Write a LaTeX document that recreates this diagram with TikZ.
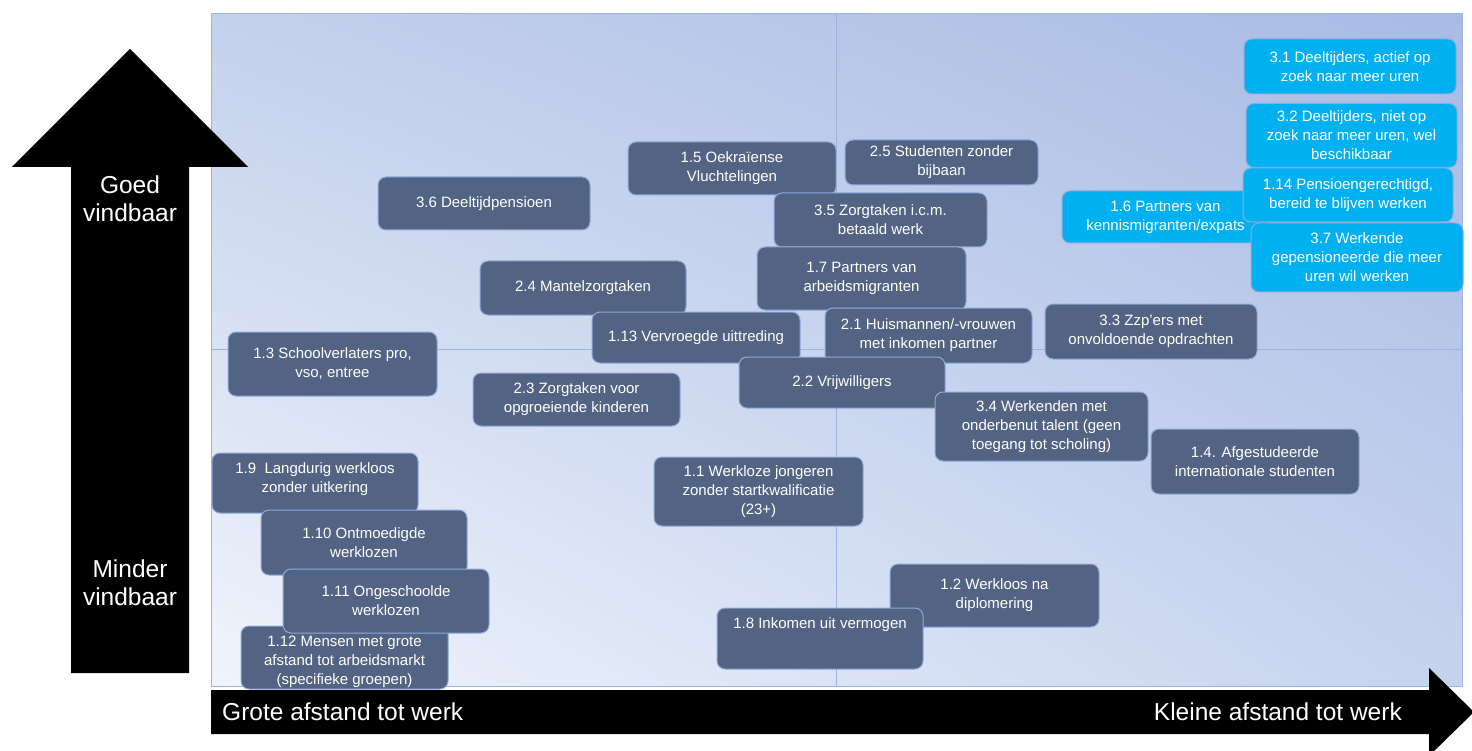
\documentclass[tikz,border=0pt]{standalone}
\usepackage{fontspec}
\setmainfont{Liberation Sans}
\usetikzlibrary{shadings}
\definecolor{boxdark}{HTML}{536383}
\definecolor{boxlight}{HTML}{00B0F0}
\definecolor{boxedge}{HTML}{8EAADB}
\definecolor{gridline}{HTML}{9DB4E0}
\definecolor{bgll}{HTML}{F0F4FC}
\definecolor{bgur}{HTML}{A8BBE5}
\definecolor{bgul}{HTML}{C4D1EC}
\definecolor{bglr}{HTML}{C6D3EE}
\tikzset{
  grp/.style={draw=boxedge, line width=1pt, fill=boxdark, rounded corners=8pt,
    text=white, font=\fontsize{15}{19}\selectfont, align=center, inner sep=0pt},
  grplight/.style={grp, fill=boxlight},
  grptext/.style={text=white, font=\fontsize{15}{19}\selectfont, align=center, inner sep=0pt},
  axislabel/.style={text=white, font=\fontsize{24.5}{28}\selectfont, align=center, inner sep=0pt},
}
\begin{document}
\begin{tikzpicture}[x=1pt,y=-1pt]
\useasboundingbox (0,0) rectangle (1472,751);
\clip (0,0) rectangle (1472,751);
% panel
\shade[lower left=bgll, upper right=bgur, upper left=bgul, lower right=bglr] (211,686) rectangle (1462,14);
\draw[gridline, line width=1pt] (211,14) rectangle (1462,686);
\coordinate (vt) at (836,14); \coordinate (vb) at (836,686);
\coordinate (hl) at (211,349); \coordinate (hr) at (1462,349);
\draw[gridline, line width=1pt] (vt) -- (vb);
\draw[gridline, line width=1pt] (hl) -- (hr);
% arrows
\fill[black] (71,673) -- (71,167) -- (12,167) -- (130,49) -- (248,167) -- (189,167) -- (189,673) -- cycle;
\fill[black] (211,690) -- (1429,690) -- (1429,668) -- (1474,712) -- (1429,756) -- (1429,734) -- (211,734) -- cycle;
\node[axislabel] (goed) at (130,199) {Goed\\vindbaar};
\node[axislabel] (minder) at (130,583) {Minder\\vindbaar};
\node[axislabel, anchor=west] (grote) at (222,712) {Grote afstand tot werk};
\node[axislabel, anchor=east] (kleine) at (1402,712) {Kleine afstand tot werk};
% groups
\node[grplight, minimum width=212, minimum height=55] (b31) at (1350,66.5) {3.1 Deeltijders, actief op\\zoek naar meer uren};
\node[grplight, minimum width=211, minimum height=64] (b32) at (1351.5,135.5) {3.2 Deeltijders, niet op\\zoek naar meer uren, wel\\beschikbaar};
\node[grplight, minimum width=207, minimum height=52] (b16) at (1165.5,217) {1.6 Partners van\\kennismigranten/expats};
\node[grplight, minimum width=210, minimum height=54] (b114) at (1348,195) {1.14 Pensioengerechtigd,\\bereid te blijven werken};
\node[grplight, minimum width=212, minimum height=69] (b37) at (1357,257.5) {3.7 Werkende\\gepensioneerde die meer\\uren wil werken};
\node[grp, minimum width=193, minimum height=45] (b25) at (941.5,162.5) {2.5 Studenten zonder\\bijbaan};
\node[grp, minimum width=208, minimum height=53] (b15) at (732,168.5) {1.5 Oekraïense\\Vluchtelingen};
\node[grp, minimum width=212, minimum height=53] (b36) at (484,203.5) {3.6 Deeltijdpensioen};
\node[grp, minimum width=213, minimum height=54] (b35) at (880.5,220) {3.5 Zorgtaken i.c.m.\\betaald werk};
\node[grp, minimum width=209, minimum height=63] (b17) at (861.5,278.5) {1.7 Partners van\\arbeidsmigranten};
\node[grp, minimum width=206, minimum height=54] (b24) at (583,288) {2.4 Mantelzorgtaken};
\node[grp, minimum width=208, minimum height=51] (b113) at (696,337.5) {1.13 Vervroegde uittreding};
\node[grp, minimum width=207, minimum height=55] (b21) at (928.5,335.5) {2.1 Huismannen/-vrouwen\\met inkomen partner};
\node[grp, minimum width=212, minimum height=55] (b33) at (1151,331.5) {3.3 Zzp’ers met\\onvoldoende opdrachten};
\node[grp, minimum width=209, minimum height=64] (b13) at (332.5,364) {1.3 Schoolverlaters pro,\\vso, entree};
\node[grp, minimum width=206, minimum height=51] (b22) at (842,382.5) {2.2 Vrijwilligers};
\node[grp, minimum width=207, minimum height=53] (b23) at (576.5,399.5) {2.3 Zorgtaken voor\\opgroeiende kinderen};
\node[grp, minimum width=213, minimum height=69] (b34) at (1041.5,426.5) {3.4 Werkenden met\\onderbenut talent (geen\\toegang tot scholing)};
\node[grp, minimum width=208, minimum height=65] (b14) at (1255,461.5) {1.4. Afgestudeerde\\internationale studenten};
\node[grp, minimum width=206, minimum height=60] (b19) at (315,483) {};
\node[grptext] (t19) at (315,479) {1.9\ \ Langdurig werkloos\\zonder uitkering};
\node[grp, minimum width=206, minimum height=65] (b110) at (364,542.5) {1.10 Ontmoedigde\\werklozen};
\node[grp, minimum width=207, minimum height=63] (b112) at (344.5,657.5) {};
\node[grptext] (t112) at (344.5,662) {1.12 Mensen met grote\\afstand tot arbeidsmarkt\\(specifieke groepen)};
\node[grp, minimum width=206, minimum height=64] (b111) at (386,601) {1.11 Ongeschoolde\\werklozen};
\node[grp, minimum width=209, minimum height=69] (b11) at (758.5,491.5) {1.1 Werkloze jongeren\\zonder startkwalificatie\\(23+)};
\node[grp, minimum width=209, minimum height=63] (b12) at (994.5,595.5) {1.2 Werkloos na\\diplomering};
\node[grp, minimum width=206, minimum height=61] (b18) at (820,638.5) {};
\node[grptext] (t18) at (820,625) {1.8 Inkomen uit vermogen};
\end{tikzpicture}
\end{document}
